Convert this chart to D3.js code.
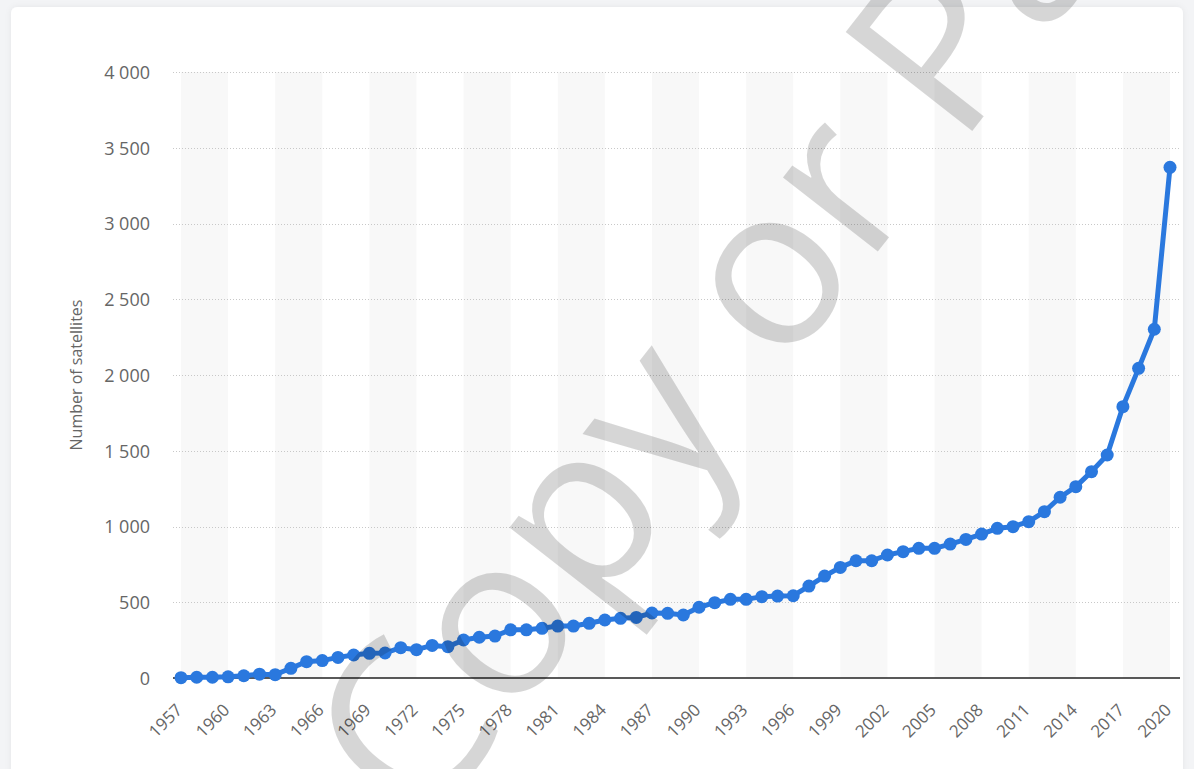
<!DOCTYPE html>
<html>
<head>
<meta charset="utf-8">
<script src="https://cdn.jsdelivr.net/npm/d3@7"></script>
<style>
  html, body { margin: 0; padding: 0; background: #f3f4f6; }
  svg { display: block; }
</style>
</head>
<body>
<svg id="chart" width="1194" height="769"></svg>
<script>
const years = d3.range(1957, 2021);
const satellites = [
  2, 5, 5, 8, 15, 25, 22, 64, 108, 115,
  136, 152, 163, 165, 200, 187, 215, 207, 251, 269,
  277, 318, 318, 328, 343, 343, 361, 383, 394, 400,
  429, 427, 416, 467, 497, 519, 519, 537, 541, 543,
  607, 673, 730, 774, 774, 812, 834, 856, 856, 884,
  915, 950, 988, 999, 1032, 1098, 1193, 1263, 1362, 1472,
  1791, 2044, 2302, 3371
];
const yTicks = [0, 500, 1000, 1500, 2000, 2500, 3000, 3500, 4000];
const xTicks = d3.range(1957, 2021, 3);
const yTitle = "Number of satellites";
const watermark = "Copy or Paste";

const data = years.map((y, i) => ({year: y, value: satellites[i]}));

const svg = d3.select("#chart");

// card
svg.append("defs").html(`
  <filter id="sh" x="-5%" y="-5%" width="110%" height="110%">
    <feDropShadow dx="0" dy="0" stdDeviation="3" flood-color="#000" flood-opacity="0.06"/>
  </filter>`);
svg.append("rect").attr("x", 11).attr("y", 7).attr("width", 1172).attr("height", 800)
  .attr("rx", 6).attr("fill", "#fff").attr("filter", "url(#sh)");

const plotLeft = 173, plotRight = 1180;
const x = d3.scaleLinear().domain([1957, 2020]).range([181, 1170]);
const y = d3.scaleLinear().domain([0, 4000]).range([678, 72]);

const g = svg.append("g");

// alternate bands
for (let i = 0; i < xTicks.length - 1; i += 2) {
  g.append("rect")
    .attr("x", x(xTicks[i])).attr("y", y(4000))
    .attr("width", x(xTicks[i + 1]) - x(xTicks[i]))
    .attr("height", y(0) - y(4000))
    .attr("fill", "#f8f8f8");
}

// gridlines
g.selectAll("line.grid").data(yTicks.filter(d => d > 0)).join("line")
  .attr("class", "grid")
  .attr("x1", plotLeft).attr("x2", plotRight)
  .attr("y1", d => Math.round(y(d)) + 0.5).attr("y2", d => Math.round(y(d)) + 0.5)
  .attr("stroke", "#c8c8c8").attr("stroke-width", 1).attr("stroke-dasharray", "1,2");

// y axis labels
const yAxis = d3.axisLeft(y).tickValues(yTicks).tickSize(0).tickPadding(0)
  .tickFormat(d => d3.format(",")(d).replace(/,/g, " "));
const yg = svg.append("g").attr("transform", `translate(150,0)`).call(yAxis);
yg.select(".domain").remove();
yg.selectAll("text").attr("font-family", "'Open Sans', sans-serif").attr("font-size", 18)
  .attr("fill", "#666").attr("dy", "0.35em");

// baseline
svg.append("line").attr("x1", plotLeft).attr("x2", plotRight)
  .attr("y1", y(0)).attr("y2", y(0)).attr("stroke", "#222").attr("stroke-width", 1.5);

// x axis labels
const xAxis = d3.axisBottom(x).tickValues(xTicks).tickSize(0).tickFormat(d3.format("d"));
const xg = svg.append("g").attr("transform", `translate(0,${y(0)})`).call(xAxis);
xg.select(".domain").remove();
xg.selectAll("text")
  .attr("font-family", "'Open Sans', sans-serif").attr("font-size", 17).attr("fill", "#666")
  .attr("text-anchor", "end").attr("dy", null).attr("y", 0)
  .attr("transform", "translate(2,33) rotate(-45)");

// y title
svg.append("text").attr("transform", "translate(82,375) rotate(-90)")
  .attr("text-anchor", "middle").attr("font-family", "'Open Sans', sans-serif")
  .attr("font-size", 16).attr("fill", "#666").text(yTitle);

// line
const line = d3.line().x(d => x(d.year)).y(d => y(d.value));
svg.append("path").datum(data).attr("d", line)
  .attr("fill", "none").attr("stroke", "#2a78de").attr("stroke-width", 5)
  .attr("stroke-linejoin", "round");
svg.selectAll("circle.pt").data(data).join("circle").attr("class", "pt")
  .attr("cx", d => x(d.year)).attr("cy", d => y(d.value)).attr("r", 6.5)
  .attr("fill", "#2a78de");

// watermark
svg.append("text").attr("transform", "translate(422,835) rotate(-52)")
  .attr("font-family", "'Open Sans', sans-serif").attr("font-size", 225)
  .attr("fill", "#000").attr("fill-opacity", 0.16).text(watermark);
</script>
</body>
</html>
